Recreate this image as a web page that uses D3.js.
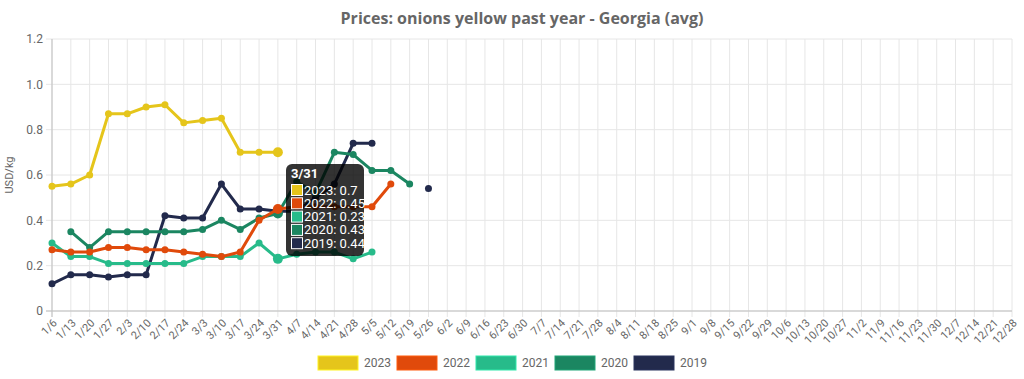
<!DOCTYPE html>
<html>
<head>
<meta charset="utf-8">
<script src="https://cdn.jsdelivr.net/npm/d3@7"></script>
<style>
  body { margin: 0; background: #fff; }
  text { font-family: Roboto, "Noto Sans", sans-serif; }
</style>
</head>
<body>
<div id="chart"></div>
<script>
// week labels
var weeks = ["1/6","1/13","1/20","1/27","2/3","2/10","2/17","2/24","3/3","3/10","3/17","3/24","3/31",
  "4/7","4/14","4/21","4/28","5/5","5/12","5/19","5/26","6/2","6/9","6/16","6/23","6/30",
  "7/7","7/14","7/21","7/28","8/4","8/11","8/18","8/25","9/1","9/8","9/15","9/22","9/29",
  "10/6","10/13","10/20","10/27","11/2","11/9","11/16","11/23","11/30","12/7","12/14","12/21","12/28"];

var years = ["2023", "2022", "2021", "2020", "2019"];
var colors = ["#e5c51b", "#e04a0b", "#27bb8a", "#1b8661", "#222a4c"];

var v2023 = [0.55,0.56,0.60,0.87,0.87,0.90,0.91,0.83,0.84,0.85,0.70,0.70,0.70];
var v2022 = [0.27,0.26,0.26,0.28,0.28,0.27,0.27,0.26,0.25,0.24,0.26,0.40,0.45,0.46,0.46,0.46,0.46,0.46,0.56];
var v2021 = [0.30,0.24,0.24,0.21,0.21,0.21,0.21,0.21,0.24,0.24,0.24,0.30,0.23,0.25,0.26,0.26,0.23,0.26];
var v2020 = [null,0.35,0.28,0.35,0.35,0.35,0.35,0.35,0.36,0.40,0.36,0.41,0.43,0.57,0.52,0.70,0.69,0.62,0.62,0.56];
var v2019 = [0.12,0.16,0.16,0.15,0.16,0.16,0.42,0.41,0.41,0.56,0.45,0.45,0.44,0.44,0.50,0.56,0.74,0.74,null,null,0.54];
var seriesValues = [v2023, v2022, v2021, v2020, v2019];

var yTicks = [0, 0.2, 0.4, 0.6, 0.8, 1.0, 1.2];
var hoverIndex = 12;

var W = 1024, H = 379;
var margin = {top: 39, right: 12, bottom: 68, left: 52};

var svg = d3.select("#chart").append("svg")
  .attr("width", W)
  .attr("height", H);

var x = d3.scalePoint()
  .domain(weeks)
  .range([margin.left, W - margin.right]);

var y = d3.scaleLinear()
  .domain([0, 1.2])
  .range([H - margin.bottom, margin.top]);

// grid
svg.append("g")
  .selectAll("line.vg")
  .data(weeks)
  .enter().append("line")
    .attr("x1", function(d) { return x(d); })
    .attr("x2", function(d) { return x(d); })
    .attr("y1", y(1.2))
    .attr("y2", y(0) + 6)
    .attr("stroke", "#e6e6e6");

svg.append("g")
  .selectAll("line.hg")
  .data(yTicks)
  .enter().append("line")
    .attr("x1", margin.left - 6)
    .attr("x2", W - margin.right)
    .attr("y1", function(d) { return y(d); })
    .attr("y2", function(d) { return y(d); })
    .attr("stroke", "#e6e6e6");

// axes lines
svg.append("line")
  .attr("x1", margin.left).attr("x2", margin.left)
  .attr("y1", y(1.2)).attr("y2", y(0) + 6)
  .attr("stroke", "#bfbfbf");
svg.append("line")
  .attr("x1", margin.left - 6).attr("x2", W - margin.right)
  .attr("y1", y(0)).attr("y2", y(0))
  .attr("stroke", "#bfbfbf");

// y tick labels
var yFmt = function(d) { return d === 0 ? "0" : d3.format(".1f")(d); };
svg.append("g")
  .selectAll("text")
  .data(yTicks)
  .enter().append("text")
    .attr("x", margin.left - 9)
    .attr("y", function(d) { return y(d); })
    .attr("dy", "0.35em")
    .attr("text-anchor", "end")
    .attr("fill", "#666")
    .style("font-size", "12px")
    .text(yFmt);

// x tick labels, rotated
svg.append("g")
  .selectAll("text")
  .data(weeks)
  .enter().append("text")
    .attr("transform", function(d) { return "translate(" + (x(d) + 3) + "," + (y(0) + 10) + ") rotate(-45)"; })
    .attr("text-anchor", "end")
    .attr("dy", "0.35em")
    .attr("fill", "#666")
    .style("font-size", "11px")
    .text(function(d) { return d; });

// y axis title
svg.append("text")
  .attr("transform", "translate(13," + y(0.6) + ") rotate(-90)")
  .attr("text-anchor", "middle")
  .attr("fill", "#666")
  .style("font-size", "11px")
  .text("USD/kg");

// chart title
svg.append("text")
  .attr("x", 522)
  .attr("y", 24)
  .attr("text-anchor", "middle")
  .attr("fill", "#666")
  .style("font-family", "'Open Sans', sans-serif")
  .style("font-weight", "bold")
  .style("font-size", "16px")
  .text("Prices: onions yellow past year - Georgia (avg)");

// lines & points, drawn so first dataset ends on top
var line = d3.line()
  .defined(function(d) { return d != null; })
  .x(function(d, i) { return x(weeks[i]); })
  .y(function(d) { return y(d); });

for (var s = years.length - 1; s >= 0; s--) {
  var vals = seriesValues[s];
  var g = svg.append("g");
  g.append("path")
    .attr("d", line(vals))
    .attr("fill", "none")
    .attr("stroke", colors[s])
    .attr("stroke-width", 3)
    .attr("stroke-linejoin", "round");
  g.selectAll("circle")
    .data(vals.map(function(v, i) { return {v: v, i: i}; }).filter(function(d) { return d.v != null; }))
    .enter().append("circle")
      .attr("cx", function(d) { return x(weeks[d.i]); })
      .attr("cy", function(d) { return y(d.v); })
      .attr("r", function(d) { return d.i === hoverIndex ? 5 : 3.5; })
      .attr("fill", colors[s]);
}

// tooltip at 3/31
var tip = svg.append("g").attr("transform", "translate(286,164)");
tip.append("rect")
  .attr("width", 78).attr("height", 92)
  .attr("rx", 6)
  .attr("fill", "rgba(0,0,0,0.8)");
tip.append("text")
  .attr("x", 5).attr("y", 9)
  .attr("dy", "0.35em")
  .attr("fill", "#fff")
  .style("font-size", "13px")
  .style("font-weight", "bold")
  .text(weeks[hoverIndex]);
years.forEach(function(yr, k) {
  var ry = 26 + k * 13.3;
  tip.append("rect")
    .attr("x", 5.5).attr("y", ry - 5.5)
    .attr("width", 11).attr("height", 11)
    .attr("fill", colors[k])
    .attr("stroke", "#fff")
    .attr("stroke-width", 1);
  tip.append("text")
    .attr("x", 18).attr("y", ry)
    .attr("dy", "0.35em")
    .attr("fill", "#fff")
    .style("font-size", "13px")
    .text(yr + ": " + seriesValues[k][hoverIndex]);
});

// legend
var legend = svg.append("g").attr("transform", "translate(318,356)");
years.forEach(function(yr, k) {
  var lg = legend.append("g").attr("transform", "translate(" + (k * 79) + ",0)");
  lg.append("rect")
    .attr("width", 40).attr("height", 14)
    .attr("fill", colors[k])
    .attr("stroke", d3.color(colors[k]).brighter(0.6))
    .attr("stroke-width", 1);
  lg.append("text")
    .attr("x", 46).attr("y", 7)
    .attr("dy", "0.35em")
    .attr("fill", "#666")
    .style("font-size", "12px")
    .text(yr);
});
</script>
</body>
</html>
